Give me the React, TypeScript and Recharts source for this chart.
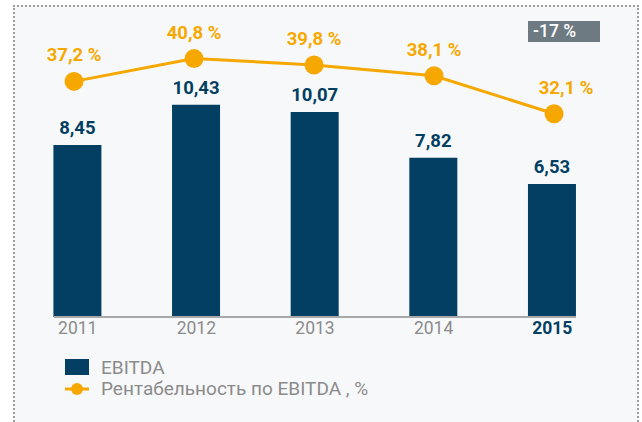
import { ComposedChart, Bar, Line, XAxis, YAxis, LabelList } from "recharts";

// ── Data ─────────────────────────────────────────────────────────
const years = [2011, 2012, 2013, 2014, 2015];
const ebitda = [8.45, 10.43, 10.07, 7.82, 6.53];
const ebitdaMargin = [37.2, 40.8, 39.8, 38.1, 32.1];
const changeBadge = "-17 %";
const seriesNames = ["EBITDA", "Рентабельность по EBITDA , %"];

const data = years.map((year, i) => ({
  year,
  ebitda: ebitda[i],
  margin: ebitdaMargin[i],
}));

// ── Styles ───────────────────────────────────────────────────────
const NAVY = "#023f62";
const ORANGE = "#f6a800";
const GREY = "#8b8b8b";
const FONT = "Roboto, 'Noto Sans', sans-serif";

const W = 642;
const H = 422;

const comma = (v: number, digits: number) => v.toFixed(digits).replace(".", ",");

const YearTick = ({ x, y, payload }: any) => {
  const last = payload.value === years[years.length - 1];
  return (
    <text
      x={x}
      y={y}
      dy={9}
      textAnchor="middle"
      fill={last ? NAVY : GREY}
      fontWeight={last ? 700 : 400}
      fontSize={17.5}
      fontFamily={FONT}
    >
      {payload.value}
    </text>
  );
};

const BarValue = ({ x, y, width, value }: any) => (
  <text
    x={x + width / 2}
    y={y - 11}
    textAnchor="middle"
    fill={NAVY}
    fontWeight={700}
    fontSize={18.5}
    fontFamily={FONT}
  >
    {comma(value, 2)}
  </text>
);

const MarginValue = ({ x, y, value, index }: any) => {
  // last label sits a bit to the right of its point
  const dx = index === years.length - 1 ? 12 : 0;
  return (
    <text
      x={x + dx}
      y={y - 20}
      textAnchor="middle"
      fill={ORANGE}
      fontWeight={700}
      fontSize={18.5}
      fontFamily={FONT}
    >
      {comma(value, 1)} %
    </text>
  );
};

function ChartLegend() {
  return (
    <svg
      width={W}
      height={H}
      style={{ position: "absolute", left: 0, top: 0, pointerEvents: "none" }}
    >
      <rect x={65} y={359} width={24} height={16} fill={NAVY} />
      <text x={101} y={373.5} fill={GREY} fontSize={19} fontFamily={FONT}>
        {seriesNames[0]}
      </text>
      <line x1={65} x2={89} y1={389} y2={389} stroke={ORANGE} strokeWidth={3} />
      <circle cx={77} cy={389} r={6} fill={ORANGE} />
      <text x={101} y={395} fill={GREY} fontSize={19} fontFamily={FONT}>
        {seriesNames[1]}
      </text>
    </svg>
  );
}

export default function App() {
  return (
    <div
      style={{
        position: "absolute",
        left: 0,
        top: 0,
        width: W,
        height: H,
        overflow: "hidden",
        background: "#ffffff",
        fontFamily: FONT,
      }}
    >
      <div
        style={{
          position: "absolute",
          left: 13,
          top: 5,
          width: 622,
          height: 440,
          background: "#f7f8fa",
          border: "2px dotted #9d9d9d",
        }}
      />
      <div style={{ position: "absolute", left: 0, top: 0 }}>
        <ComposedChart
          width={W}
          height={H}
          data={data}
          margin={{ top: 32, right: 66, bottom: 75, left: 54 }}
        >
          <XAxis
            xAxisId="bar"
            dataKey="year"
            type="number"
            domain={[2010.8, 2015.2]}
            ticks={years}
            height={30}
            axisLine={{ stroke: "#a9a9a9", strokeWidth: 2 }}
            tickLine={false}
            tick={<YearTick />}
            interval={0}
          />
          <XAxis
            xAxisId="line"
            dataKey="year"
            type="number"
            domain={[2010.833, 2015.183]}
            hide
          />
          <YAxis yAxisId="bar" domain={[0, 14]} hide />
          <YAxis yAxisId="line" domain={[0, 45]} hide />
          <Bar
            xAxisId="bar"
            yAxisId="bar"
            dataKey="ebitda"
            fill={NAVY}
            barSize={48}
            isAnimationActive={false}
          >
            <LabelList dataKey="ebitda" content={<BarValue />} />
          </Bar>
          <Line
            xAxisId="line"
            yAxisId="line"
            dataKey="margin"
            stroke={ORANGE}
            strokeWidth={3}
            dot={{ r: 9.5, fill: ORANGE, stroke: "none" }}
            activeDot={false}
            isAnimationActive={false}
          >
            <LabelList dataKey="margin" content={<MarginValue />} />
          </Line>
        </ComposedChart>
      </div>
      <ChartLegend />
      <div
        style={{
          position: "absolute",
          left: 528,
          top: 21,
          width: 72,
          height: 21,
          background: "#6e7a81",
          color: "#ffffff",
          fontSize: 17.5,
          fontWeight: 500,
          lineHeight: "21px",
          paddingLeft: 5,
          boxSizing: "border-box",
        }}
      >
        {changeBadge}
      </div>
    </div>
  );
}
